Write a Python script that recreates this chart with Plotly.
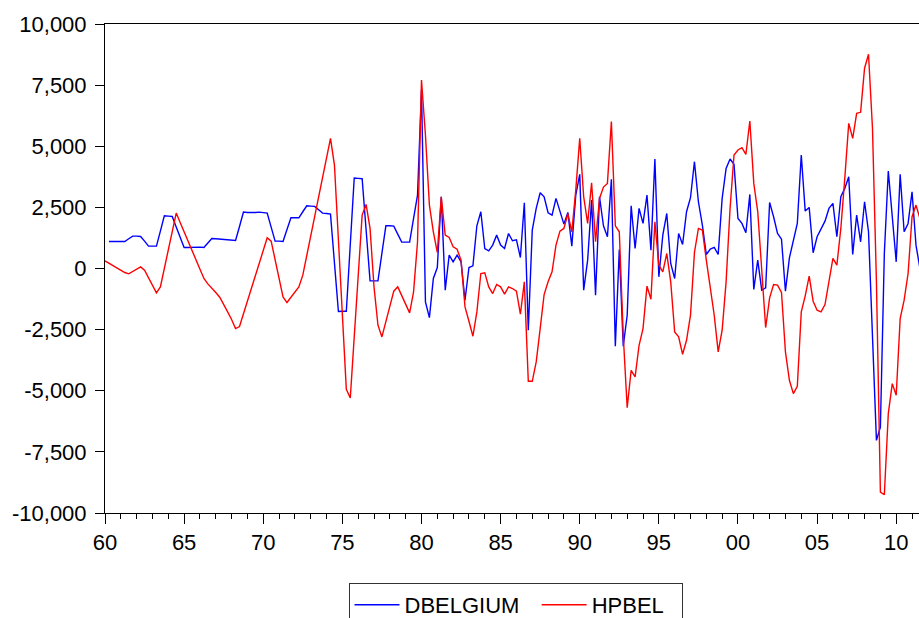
import plotly.graph_objects as go

start_year = 1960
dbelgium = [None, 1106, 1106, 1106, 1092, 1106, 1215, 1324, 1324, 1310, 1119, 915, 915, 915, 1529, 2157,
            2143, 2129, 1693, 1242, 860, 860, 874, 874, 874, 860, 1037, 1228, 1215, 1201, 1174, 1160,
            1147, 1147, 1720, 2307, 2293, 2280, 2293, 2307, 2293, 2266, 1693, 1119, 1119, 1106, 1597, 2075,
            2075, 2075, 2321, 2566, 2553, 2539, 2402, 2266, 2252, 2225, 232, -1761, -1747, -1747, 983, 3699,
            3686, 3672, 1583, -505, -505, -505, 628, 1747, 1747, 1734, 1406, 1078, 1078, 1078, 2048, 3003,
            7300, -1365, -2007, -410, 41, 2935, -887, 546, 273, 546, 273, -1297, 41, 109, 1747, 2321,
            819, 723, 956, 1365, 956, 819, 1433, 1133, 1174, 450, 2689, -2525, 1570, 2457, 3099, 2935,
            2280, 2184, 2867, 2321, 1815, 2293, 915, 3003, 3849, -887, 341, 2798, -1092, 2935, 1747, 1297,
            3645, -3180, 778, -3180, -1911, 2566, 819, 2457, 1843, 3003, 751, 4477, -341, 1365, 2252, 205,
            -410, 1433, 983, 2321, 2894, 4368, 2730, 1775, 573, 792, 860, 573, 2867, 4095, 4477, 4259,
            2048, 1843, 1461, 3030, -860, 341, -887, -792, 2703, 2116, 1433, 1201, -928, 437, 1092, 1843,
            4641, 2348, 2498, 642, 1297, 1638, 1938, 2457, 2662, 1297, 2935, 3276, 3754, 573, 2184, 1092,
            2730, 1502, -2730, -7030, -6484, 614, 3986, 2184, 273, 3849, 1502, 1843, 3140, 956, 0]
hpbel = [314, 218, 123, 27, -68, -164, -218, -123, -27, 68, -68, -382, -696, -996, -751, 0,
         751, 1501, 2266, 1884, 1501, 1119, 737, 355, -27, -410, -628, -792, -983, -1174, -1447, -1775,
         -2088, -2457, -2375, -1870, -1352, -832, -314, 205, 723, 1256, 1119, 355, -410, -1160, -1392, -1174,
         -955, -751, -273, 532, 1324, 2129, 2921, 3726, 4518, 5324, 4232, 1174, -1884, -4941, -5296, -2798,
         -314, 2184, 2621, 1638, -750, -2320, -2798, -2170, -1556, -928, -751, -1106, -1461, -1815, -955, 1092,
         7712, 5460, 2594, 1501, 655, 2935, 1365, 1269, 887, 792, 341, -1570, -2157, -2771, -1775, -205,
         -177, -751, -1024, -655, -751, -1051, -751, -819, -928, -1870, -546, -4614, -4614, -3822, -2457, -1065,
         -546, -137, 956, 1529, 1638, 2239, 1501, 3208, 5324, 2935, 1843, 3508, 1092, 2867, 3331, 3481,
         6006, 1747, 1501, -2730, -5692, -4163, -4436, -3140, -2457, -723, -1256, 1911, 137, -137, 614, -546,
         -2594, -2798, -3508, -2935, -1911, 655, 1638, 1570, 341, -819, -1911, -3413, -2525, -546, 2457, 4641,
         4846, 4941, 4668, 6033, 3481, 2321, 0, -2416, -1201, -655, -682, -983, -3413, -4573, -5119, -4818,
         -1775, -1119, -314, -1338, -1706, -1775, -1474, -614, 410, 137, 1638, 3686, 5938, 5324, 6347, 6388,
         8190, 8763, 5733, -546, -9146, -9255, -5938, -4709, -5187, -2048, -1297, -205, 2116, 2594, 2048]

x_tick_vals = [1960, 1965, 1970, 1975, 1980, 1985, 1990, 1995, 2000, 2005, 2010]
x_tick_text = ["60", "65", "70", "75", "80", "85", "90", "95", "00", "05", "10"]
y_tick_vals = [10000, 7500, 5000, 2500, 0, -2500, -5000, -7500, -10000]
y_tick_text = ["10,000", "7,500", "5,000", "2,500", "0", "-2,500", "-5,000", "-7,500", "-10,000"]

quarters = [start_year + i / 4 for i in range(len(hpbel))]

FONT = "Arial, 'Liberation Sans', sans-serif"
PAD = "\u00a0\u00a0"

fig = go.Figure()
fig.add_trace(go.Scatter(x=quarters, y=dbelgium, mode="lines", name="DBELGIUM" + PAD,
                         line=dict(color="#0000FF", width=1.4)))
fig.add_trace(go.Scatter(x=quarters, y=hpbel, mode="lines", name="HPBEL" + PAD,
                         line=dict(color="#FF0000", width=1.4)))

fig.update_layout(
    width=919, height=618,
    margin=dict(l=105, r=0, t=24, b=105),
    paper_bgcolor="white", plot_bgcolor="white",
    font=dict(family=FONT, size=22, color="black"),
    showlegend=True,
    legend=dict(orientation="h", x=515.5 / 919, xanchor="center", xref="container",
                y=1 - 583 / 618, yanchor="top", yref="container",
                bordercolor="#333333", borderwidth=1, font=dict(size=22, color="black"),
                itemwidth=45, bgcolor="white"),
)
fig.update_xaxes(
    range=[1960, 2011.44], showgrid=False, zeroline=False,
    showline=True, linecolor="black", linewidth=1, mirror=True,
    tickmode="array", tickvals=x_tick_vals, ticktext=x_tick_text,
    ticks="outside", ticklen=10, tickcolor="black",
    minor=dict(tickmode="linear", tick0=1960, dtick=1, ticks="outside", ticklen=5, tickcolor="black"),
    tickfont=dict(size=22, color="black"),
)
fig.update_yaxes(
    range=[-10000, 10000], showgrid=False, zeroline=False,
    showline=True, linecolor="black", linewidth=1, mirror=False,
    tickmode="array", tickvals=y_tick_vals, ticktext=y_tick_text,
    ticks="outside", ticklen=9, tickcolor="black", ticklabelstandoff=4,
    tickfont=dict(size=22, color="black"),
)

fig.write_html("out.html")
